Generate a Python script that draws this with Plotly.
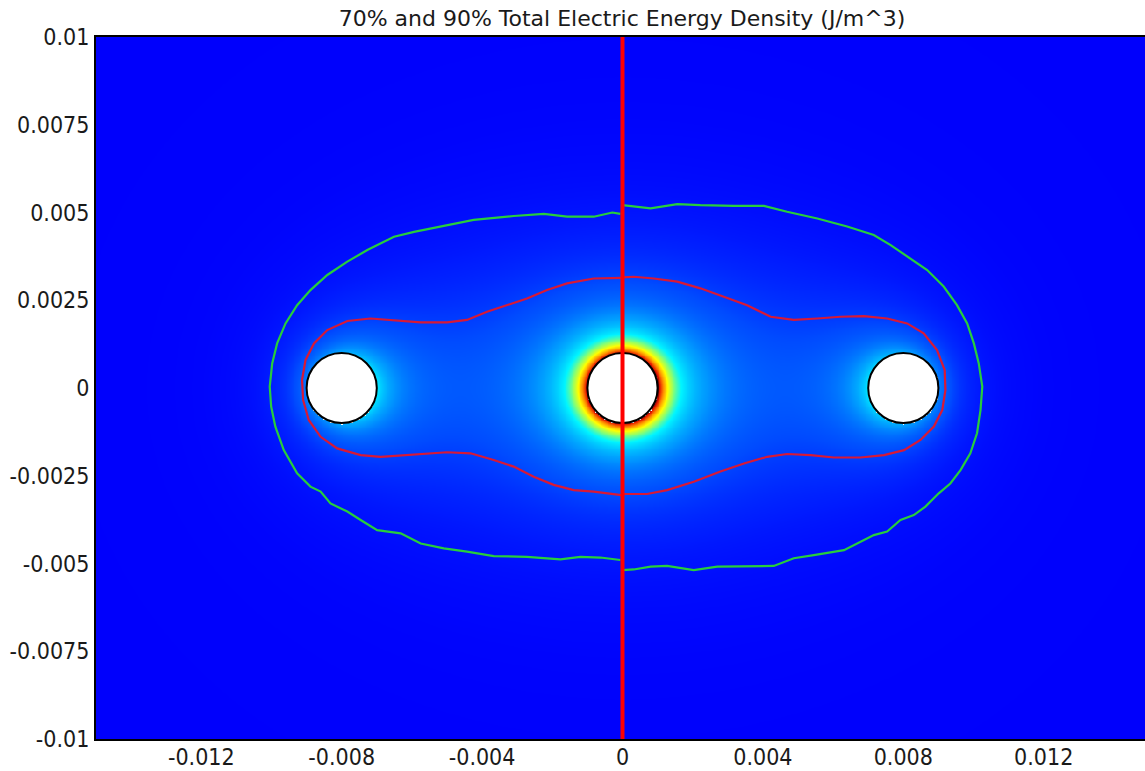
import numpy as np
import plotly.graph_objects as go

# Conductors (centre positions in m, radius in m, relative line charge)
CONDUCTOR_X = [-0.008, 0.0, 0.008]
CONDUCTOR_Y = [0.0, 0.0, 0.0]
CONDUCTOR_R = 0.001
LINE_CHARGE = [-0.5, 1.0, -0.5]

# Symmetry cut line
CUT_X = 0.0

# Domain
X_LIM = [-0.015, 0.015]
Y_LIM = [-0.01, 0.01]

# Tick labels
X_TICKS = [-0.012, -0.008, -0.004, 0.0, 0.004, 0.008, 0.012]
X_TICKTEXT = ["-0.012", "-0.008", "-0.004", "0", "0.004", "0.008", "0.012"]
Y_TICKS = [0.01, 0.0075, 0.005, 0.0025, 0.0, -0.0025, -0.005, -0.0075, -0.01]
Y_TICKTEXT = ["0.01", "0.0075", "0.005", "0.0025", "0", "-0.0025", "-0.005", "-0.0075", "-0.01"]

# 90 % energy contour (mm), left and right half-domains
GREEN_LEFT_X = [-0.06, -0.29, -0.82, -1.58, -2.24, -3.10, -4.24, -5.00, -5.94, -6.51, -7.27, -7.84,
                -8.41, -8.89, -9.27, -9.60, -9.84, -9.98, -10.05, -10.01, -9.89, -9.65, -9.27, -8.89,
                -8.60, -8.32, -7.84, -7.46, -6.99, -6.32, -5.75, -5.09, -4.43, -3.67, -2.72, -1.77,
                -1.20, -0.63, -0.06]
GREEN_LEFT_Y = [4.96, 5.00, 4.88, 4.88, 4.96, 4.90, 4.79, 4.64, 4.45, 4.31, 3.93, 3.60,
                3.22, 2.79, 2.36, 1.84, 1.27, 0.70, 0.04, -0.53, -1.10, -1.77, -2.43, -2.81,
                -2.95, -3.29, -3.52, -3.76, -4.05, -4.14, -4.43, -4.57, -4.66, -4.79, -4.81, -4.88,
                -4.81, -4.83, -4.90]
GREEN_RIGHT_X = [0.0, 0.32, 0.80, 1.56, 2.22, 3.17, 4.03, 4.69, 5.55, 6.40, 7.16, 7.64, 8.21,
                 8.68, 9.15, 9.53, 9.82, 10.01, 10.15, 10.25, 10.20, 10.10, 9.91, 9.63, 9.34,
                 9.01, 8.63, 8.30, 7.92, 7.54, 7.16, 6.78, 6.31, 5.45, 4.88, 4.31, 3.36, 2.70,
                 2.03, 1.27, 0.80, 0.32, 0.0]
GREEN_RIGHT_Y = [5.21, 5.17, 5.12, 5.24, 5.21, 5.19, 5.19, 5.02, 4.83, 4.60, 4.36, 4.07, 3.69,
                 3.36, 2.89, 2.36, 1.84, 1.27, 0.70, 0.04, -0.63, -1.29, -1.86, -2.34, -2.72,
                 -3.00, -3.38, -3.62, -3.76, -4.09, -4.19, -4.38, -4.62, -4.76, -4.85, -5.07,
                 -5.07, -5.09, -5.19, -5.07, -5.09, -5.17, -5.19]

# 70 % energy contour (mm), left and right half-domains
RED_LEFT_X = [-0.03, -0.82, -1.58, -2.15, -2.72, -3.29, -3.86, -4.43, -5.00, -5.75, -6.51, -7.18,
              -7.84, -8.41, -8.79, -9.03, -9.13, -9.10, -8.94, -8.60, -8.13, -7.46, -6.89, -6.23,
              -5.56, -5.00, -4.33, -3.67, -3.10, -2.53, -1.96, -1.39, -0.82, -0.03]
RED_LEFT_Y = [3.14, 3.12, 2.98, 2.79, 2.55, 2.36, 2.17, 1.94, 1.87, 1.87, 1.94, 1.98,
              1.91, 1.65, 1.27, 0.80, 0.23, -0.34, -0.91, -1.39, -1.72, -1.91, -1.96, -1.92,
              -1.86, -1.83, -1.86, -2.05, -2.24, -2.53, -2.76, -2.91, -2.95, -3.05]
RED_RIGHT_X = [0.0, 0.32, 0.89, 1.56, 2.22, 2.89, 3.55, 4.22, 4.88, 5.55, 6.21, 6.88, 7.54,
               8.11, 8.58, 8.96, 9.18, 9.20, 9.11, 8.87, 8.49, 8.02, 7.45, 6.78, 6.02, 5.36,
               4.69, 4.12, 3.46, 2.79, 2.03, 1.27, 0.70, 0.32, 0.0]
RED_RIGHT_Y = [3.15, 3.17, 3.12, 3.03, 2.84, 2.60, 2.36, 2.03, 1.94, 1.98, 2.03, 2.05, 1.98,
               1.84, 1.56, 1.08, 0.51, -0.06, -0.63, -1.10, -1.48, -1.77, -1.91, -1.98, -1.98,
               -1.91, -1.88, -1.96, -2.15, -2.38, -2.67, -2.91, -3.02, -3.02, -3.02]

MM = 1e-3


def field_sq(px, py):
    """|E|^2 from the superposed 2-D line charges (arbitrary units)."""
    ex = np.zeros_like(px, dtype=float)
    ey = np.zeros_like(px, dtype=float)
    for cx, cy, q in zip(CONDUCTOR_X, CONDUCTOR_Y, LINE_CHARGE):
        dx, dy = px - cx, py - cy
        r2 = dx * dx + dy * dy
        r2 = np.where(r2 == 0, np.nan, r2)
        ex += q * dx / r2
        ey += q * dy / r2
    return ex * ex + ey * ey


gx = np.linspace(X_LIM[0], X_LIM[1], 601)
gy = np.linspace(Y_LIM[0], Y_LIM[1], 401)
GX, GY = np.meshgrid(gx, gy)
energy = field_sq(GX, GY)
ref = field_sq(np.array([CONDUCTOR_X[1] + CONDUCTOR_R]), np.array([CONDUCTOR_Y[1]]))[0]
energy = energy / ref
for cx, cy in zip(CONDUCTOR_X, CONDUCTOR_Y):
    inside = (GX - cx) ** 2 + (GY - cy) ** 2 < CONDUCTOR_R ** 2
    energy[inside] = np.nan

colorscale = [
    [0.00, "rgb(0,0,252)"],
    [0.03, "rgb(0,30,255)"],
    [0.08, "rgb(0,75,255)"],
    [0.20, "rgb(0,150,255)"],
    [0.38, "rgb(0,245,255)"],
    [0.50, "rgb(140,255,110)"],
    [0.62, "rgb(255,255,0)"],
    [0.76, "rgb(255,140,0)"],
    [0.90, "rgb(225,20,0)"],
    [1.00, "rgb(90,0,0)"],
]

fig = go.Figure()
fig.add_trace(go.Heatmap(
    x=gx, y=gy, z=energy, zmin=0, zmax=1, zsmooth="best",
    colorscale=colorscale, showscale=False, hoverinfo="skip",
))

for xs, ys, color in [
    (GREEN_LEFT_X, GREEN_LEFT_Y, "rgb(40,205,60)"),
    (GREEN_RIGHT_X, GREEN_RIGHT_Y, "rgb(40,205,60)"),
    (RED_LEFT_X, RED_LEFT_Y, "rgb(215,25,55)"),
    (RED_RIGHT_X, RED_RIGHT_Y, "rgb(215,25,55)"),
]:
    fig.add_trace(go.Scatter(
        x=np.array(xs) * MM, y=np.array(ys) * MM, mode="lines",
        line=dict(color=color, width=2.2), showlegend=False, hoverinfo="skip",
    ))

shapes = []
for cx, cy in zip(CONDUCTOR_X, CONDUCTOR_Y):
    shapes.append(dict(
        type="circle", xref="x", yref="y",
        x0=cx - CONDUCTOR_R, x1=cx + CONDUCTOR_R,
        y0=cy - CONDUCTOR_R, y1=cy + CONDUCTOR_R,
        fillcolor="white", line=dict(color="black", width=2),
    ))
shapes.append(dict(
    type="line", xref="x", yref="paper", x0=CUT_X, x1=CUT_X, y0=0, y1=1,
    line=dict(color="rgb(255,0,0)", width=4),
))

W, H = 1145, 771
ML, MR, MT, MB = 96, 0, 37, 32
px_per_m = (H - MT - MB) / (Y_LIM[1] - Y_LIM[0])
x_max = X_LIM[0] + (W - ML - MR) / px_per_m

tick_family = "DejaVu Sans Condensed, DejaVu Sans, sans-serif"
title_family = "DejaVu Sans, sans-serif"

fig.update_layout(
    width=W, height=H,
    margin=dict(l=ML, r=MR, t=MT, b=MB, pad=0, autoexpand=False),
    paper_bgcolor="white", plot_bgcolor="white",
    shapes=shapes,
    showlegend=False,
    title=dict(
        text="70% and 90% Total Electric Energy Density (J/m^3)",
        x=(622 - ML) / (W - ML - MR), xref="paper", xanchor="center",
        y=1 - 18 / H, yanchor="middle",
        font=dict(family=title_family, size=22, color="#1a1a1a"),
    ),
)
fig.update_xaxes(
    range=[X_LIM[0], x_max], tickvals=X_TICKS, ticktext=X_TICKTEXT,
    showgrid=False, zeroline=False, ticks="", automargin=False,
    ticklabelstandoff=-4,
    showline=True, mirror=True, linecolor="black", linewidth=2,
    tickfont=dict(family=tick_family, size=23, color="#1a1a1a"),
)
fig.update_yaxes(
    range=Y_LIM, tickvals=Y_TICKS, ticktext=Y_TICKTEXT,
    showgrid=False, zeroline=False, ticks="", automargin=False,
    showline=True, mirror=False, linecolor="black", linewidth=2,
    tickfont=dict(family=tick_family, size=23, color="#1a1a1a"),
)

fig.write_html("out.html")
